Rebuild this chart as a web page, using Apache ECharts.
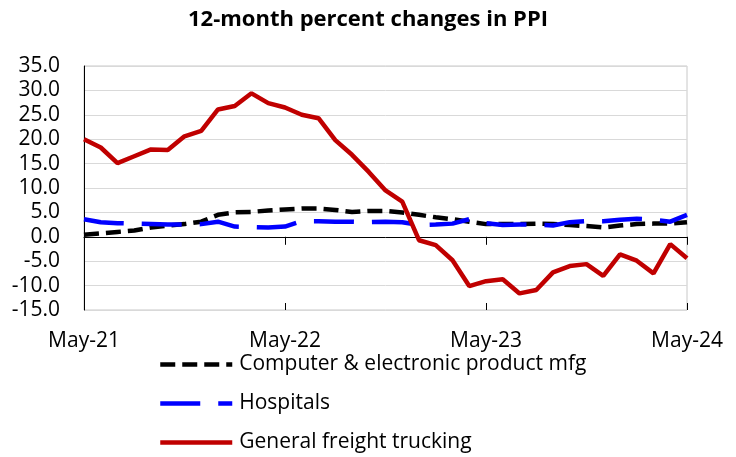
<!DOCTYPE html>
<html><head><meta charset="utf-8">
<script src="https://cdn.jsdelivr.net/npm/echarts@6/dist/echarts.min.js"></script>
<style>html,body{margin:0;padding:0;background:#fff}#c{width:736px;height:457px}</style>
</head><body><div id="c"></div>
<script>
const titleText = "12-month percent changes in PPI";
const months = ["May-21","Jun-21","Jul-21","Aug-21","Sep-21","Oct-21","Nov-21","Dec-21","Jan-22","Feb-22","Mar-22","Apr-22",
"May-22","Jun-22","Jul-22","Aug-22","Sep-22","Oct-22","Nov-22","Dec-22","Jan-23","Feb-23","Mar-23","Apr-23",
"May-23","Jun-23","Jul-23","Aug-23","Sep-23","Oct-23","Nov-23","Dec-23","Jan-24","Feb-24","Mar-24","Apr-24","May-24"];
const computerName = "Computer & electronic product mfg";
const hospitalsName = "Hospitals";
const truckingName = "General freight trucking";
const computer = [0.4,0.7,1.0,1.3,1.9,2.3,2.6,3.1,4.5,5.0,5.1,5.4,5.6,5.8,5.8,5.5,5.1,5.3,5.3,5.0,4.5,4.0,3.6,3.1,2.6,2.6,2.6,2.7,2.6,2.4,2.2,1.9,2.3,2.6,2.7,2.7,3.0];
const hospitals = [3.6,3.0,2.8,2.7,2.6,2.5,2.5,2.6,3.1,2.1,2.0,1.9,2.1,3.2,3.2,3.1,3.1,3.0,3.1,3.0,2.4,2.5,2.7,3.6,2.8,2.4,2.5,2.5,2.3,3.0,3.2,3.2,3.5,3.7,3.5,3.1,4.5];
const trucking = [20.0,18.3,15.1,16.5,17.9,17.8,20.6,21.7,26.1,26.8,29.4,27.4,26.5,25.0,24.3,19.8,16.8,13.3,9.5,7.2,-0.7,-1.7,-4.8,-10.1,-9.1,-8.7,-11.6,-10.9,-7.3,-6.0,-5.6,-8.0,-3.6,-4.9,-7.5,-1.5,-4.4];
const yMin = -15, yMax = 35, yStep = 5;

const FONT = 'Open Sans';
const chart = echarts.init(document.getElementById('c'), null, {renderer:'canvas'});
const baseX = {type:'category', data: months, boundaryGap:false, gridIndex:0};
chart.setOption({
  animation:false,
  textStyle:{fontFamily:FONT},
  title:{text:titleText, left:'center', top:4, textStyle:{fontFamily:FONT, fontWeight:'bold', fontSize:22, color:'#000'}},
  grid:{left:84, right:49, top:66, bottom:147, show:true, borderColor:'#c8c8c8', borderWidth:1},
  legend:{orient:'vertical', left:158, top:354, padding:0, itemWidth:72, itemHeight:14, itemGap:18,
    itemStyle:{opacity:0},
    lineStyle:{width:4.5},
    textStyle:{fontFamily:FONT, fontSize:21, color:'#000', padding:[0,0,0,2]},
    data:[computerName, hospitalsName, truckingName]},
  xAxis:[
    Object.assign({}, baseX, {position:'bottom', axisLine:{onZero:true, lineStyle:{color:'#000', width:1}},
      axisTick:{show:true, interval:11, length:8, lineStyle:{color:'#000'}}, axisLabel:{show:false}, splitLine:{show:false}}),
    Object.assign({}, baseX, {position:'bottom', axisLine:{onZero:false, show:false}, axisTick:{show:false},
      axisLabel:{show:true, interval:11, margin:21, fontFamily:FONT, fontSize:21, color:'#000'}, splitLine:{show:false}}),
    Object.assign({}, baseX, {position:'bottom', axisLine:{onZero:true, show:false},
      axisTick:{show:true, inside:true, interval:11, length:7, lineStyle:{color:'#000'}}, axisLabel:{show:false}, splitLine:{show:false}})
  ],
  yAxis:{type:'value', min:yMin, max:yMax, interval:yStep,
    axisLine:{show:true, onZero:false, lineStyle:{color:'#000'}}, axisTick:{show:false},
    axisLabel:{margin:24, fontFamily:FONT, fontSize:21, color:'#000', formatter:v=>v.toFixed(1)},
    splitLine:{show:true, lineStyle:{color:'#d9d9d9', width:1}}},
  series:[
    {name:computerName, type:'line', data:computer, symbol:'none', showSymbol:false, xAxisIndex:0,
      lineStyle:{color:'#000', width:4.5, type:[15,7]}, itemStyle:{color:'#000'}, z:3},
    {name:hospitalsName, type:'line', data:hospitals, symbol:'none', showSymbol:false, xAxisIndex:0,
      lineStyle:{color:'#0000ff', width:4.5, type:[40,18]}, itemStyle:{color:'#0000ff'}, z:4},
    {name:truckingName, type:'line', data:trucking, symbol:'none', showSymbol:false, xAxisIndex:0,
      lineStyle:{color:'#c00000', width:4.5}, itemStyle:{color:'#c00000'}, z:5}
  ]
});
</script></body></html>
